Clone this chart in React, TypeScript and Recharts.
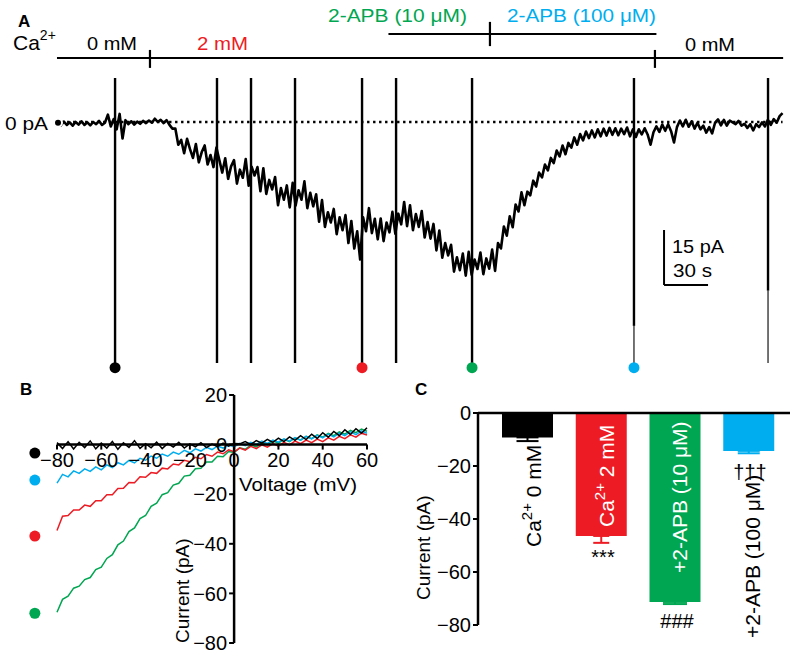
import React from "react";
import {
  LineChart,
  Line,
  XAxis,
  YAxis,
  ReferenceLine,
  ReferenceDot,
  BarChart,
  Bar,
  Cell,
  ErrorBar,
} from "recharts";

const FONT = '"Liberation Sans", Arial, Helvetica, sans-serif';
const INK = "#000000";
const RED = "#ed1c24";
const GREEN = "#00a651";
const BLUE = "#00aeef";

// ---- Panel A: holding current, one sample every 2 s ----
const TRACE_STEP_S = 2;
const TRACE_PA = [
  -0.2, -0.9, 0.1, -0.8, -0.1, -1.0, 0.0, -0.7, 0.2, -0.8,
  -0.1, -0.9, 0.0, -0.6, 0.3, -0.8, -0.2, 2.0, -1.2, 0.8,
  -2.0, 2.2, -4.5, 0.5, -0.6, 0.2, -0.7, 0.1, -0.5, 0.3,
  -0.3, 0.4, -0.2, 0.9, 0.0, 0.6, -0.3, 0.5, -0.8, -1.8,
  -1.8, -6.2, -4.9, -8.5, -4.6, -7.4, -9.8, -6.0, -11.0, -8.2,
  -6.4, -11.6, -9.0, -12.3, -7.0, -10.4, -13.8, -9.9, -15.5, -12.1,
  -10.4, -16.8, -13.0, -15.2, -10.1, -17.4, -12.2, -14.6, -12.3, -18.9,
  -12.6, -19.6, -15.8, -18.4, -15.0, -22.7, -18.0, -21.2, -17.3, -23.3,
  -16.6, -22.8, -18.6, -21.2, -16.2, -23.5, -19.3, -23.0, -19.7, -27.2,
  -21.3, -28.6, -24.6, -27.4, -23.7, -30.6, -26.0, -29.5, -25.4, -33.0,
  -27.0, -34.5, -29.8, -37.5, -26.0, -29.8, -23.5, -30.3, -26.4, -32.0,
  -26.3, -32.5, -27.4, -30.1, -24.5, -30.5, -25.0, -27.9, -21.8, -28.4,
  -22.7, -29.5, -25.1, -28.6, -24.3, -31.5, -27.3, -31.8, -27.8, -35.0,
  -29.6, -37.0, -33.0, -36.4, -33.5, -40.8, -36.9, -40.4, -35.9, -41.9,
  -35.4, -41.7, -37.5, -40.1, -35.6, -41.5, -37.2, -40.0, -34.8, -40.6,
  -33.0, -34.5, -28.5, -31.0, -25.7, -28.7, -22.5, -24.4, -19.2, -22.7,
  -19.0, -20.0, -16.0, -17.6, -13.8, -15.1, -11.6, -13.2, -9.8, -11.2,
  -7.8, -9.4, -6.4, -8.8, -5.7, -7.0, -4.2, -6.2, -3.3, -5.0,
  -2.6, -4.4, -2.3, -4.2, -2.0, -3.9, -1.8, -3.7, -1.6, -3.5,
  -1.7, -3.6, -1.8, -3.3, -1.5, -3.9, -2.0, -4.1, -2.0, -3.4,
  -1.7, -3.4, -6.2, -2.8, -1.2, -2.7, -0.7, -2.4, -0.6, -2.5,
  -5.6, -1.4, 0.4, -1.2, 0.6, -1.3, 0.2, -1.8, -0.2, -2.0,
  -1.0, -2.9, -1.4, -3.1, -0.2, 0.7, -0.9, 0.6, -1.0, 0.4,
  -0.1, -0.6, 0.3, -1.0, -0.5, -1.6, -0.6, -2.3, -0.6, -1.4,
  -0.1, -1.2, 0.6, -0.8, 0.8, -0.2, 1.6, 2.4,
];

// voltage ramps (s) and where the solid part of each ramp artefact ends (pA)
const RAMP_S = [38.9, 108.4, 131.6, 161.6, 207.3, 230.5, 282.3, 392.7, 484.1];
const RAMP_SOLID_TO_PA = [-65.7, -65.7, -65.7, -65.7, -65.7, -65.7, -65.7, -55.6, -46.0];
const RAMP_TOP_PA = 12;
const RAMP_END_PA = -65.7;
const MARKED_RAMPS = [0, 4, 6, 7];
const MARKER_COLORS = [INK, RED, GREEN, BLUE];
const MARKER_PA = -67;

// bath solution timeline (s)
const CA_BAR = { from: -0.7, to: 494.4, level: 17.45, switches: [62.7, 407.0] };
const APB_BAR = { from: 225.3, to: 408.0, level: 24.0, switches: [294.5] };
const SCALE_BAR = { t: 413.2, top: -29.45, bottom: -44.45, seconds: 30 };

// ---- Panel B: I-V relations ----
const IV_MV = [
  -80, -77.5, -75, -72.5, -70, -67.5, -65, -62.5, -60, -57.5, -55, -52.5, -50, -47.5,
  -45, -42.5, -40, -37.5, -35, -32.5, -30, -27.5, -25, -22.5, -20, -17.5, -15, -12.5,
  -10, -7.5, -5, -2.5, 0, 2.5, 5, 7.5, 10, 12.5, 15, 17.5, 20, 22.5, 25, 27.5, 30,
  32.5, 35, 37.5, 40, 42.5, 45, 47.5, 50, 52.5, 55, 57.5, 60,
];
const IV_CA0 = [
  0.8, -1.6, 1.2, -1.8, 0.9, -1.2, 1.5, -1.7, 0.6, -1.4, 1.3, -1.9, 0.7, -1.1, 1.6,
  -1.5, 0.4, -1.3, 1.0, -1.6, 0.5, -1.0, 0.9, -1.4, 0.3, -0.9, 0.8, -1.2, 0.2, -0.8,
  0.6, -0.6, 0.4, 0.3, 1.2, 0.1, 1.6, 0.6, 2.1, 0.9, 2.6, 1.2, 3.1, 1.7, 3.6, 2.0,
  4.2, 2.5, 4.8, 3.0, 5.3, 3.6, 6.0, 4.1, 6.4, 4.6, 6.8,
];
const IV_CA2 = [
  -34.6, -28.9, -28.6, -26.4, -26.4, -24.4, -24.9, -22.6, -22.6, -20.2, -20.2, -17.7,
  -17.6, -15.3, -15.4, -13.0, -13.2, -11.3, -11.6, -9.5, -9.8, -7.8, -8.2, -6.3, -6.9,
  -5.1, -5.7, -4.0, -4.7, -3.0, -3.7, -2.1, -2.9, -1.4, -2.2, -0.7, -1.6, -0.1, -1.0,
  0.4, -0.6, 0.9, -0.1, 1.4, 0.4, 1.8, 0.8, 2.2, 1.2, 2.7, 1.8, 3.3, 2.4, 3.9, 3.0,
  4.6, 3.9,
];
const IV_APB10 = [
  -67.6, -62.4, -61.1, -57.9, -57.1, -54.4, -53.6, -50.4, -49.4, -45.9, -44.4, -40.4,
  -38.9, -35.1, -33.6, -29.8, -28.6, -24.9, -23.6, -20.2, -19.4, -16.3, -15.6, -12.7,
  -12.4, -9.7, -9.5, -7.0, -7.0, -4.7, -4.9, -2.8, -3.2, -1.3, -1.9, -0.2, -0.9, 0.7,
  -0.1, 1.5, 0.6, 2.1, 1.2, 2.7, 1.8, 3.3, 2.4, 3.9, 3.0, 4.5, 3.6, 5.1, 4.2, 5.7,
  4.8, 6.3, 5.4,
];
const IV_APB100 = [
  -15.5, -12.0, -13.0, -10.6, -11.6, -9.8, -10.8, -9.0, -10.2, -8.2, -9.3, -7.3, -8.2,
  -6.4, -7.4, -5.5, -6.3, -4.6, -5.5, -3.8, -4.7, -3.0, -3.9, -2.3, -3.3, -1.7, -2.6,
  -1.1, -2.0, -0.6, -1.4, -0.1, -0.9, 0.5, -0.4, 0.9, 0.1, 1.4, 0.5, 1.8, 1.0, 2.3,
  1.4, 2.8, 1.8, 3.3, 2.3, 3.7, 2.7, 4.2, 3.1, 4.6, 3.6, 5.1, 4.0, 5.5, 4.6,
];
const IV_TICKS_X = [-80, -60, -40, -20, 0, 20, 40, 60];
const IV_TICKS_Y = [20, 0, -20, -40, -60, -80];
// legend dots left of the I-V plot: black, blue, red, green
const IV_DOT_MV = -90;
const IV_DOT_PA = [-3.4, -14.3, -36.9, -68.0];
const IV_DOT_COLORS = [INK, BLUE, RED, GREEN];

// ---- Panel C: mean current at -80 mV ----
const CONDITIONS = ["Ca 0 mM", "Ca 2 mM", "2-APB 10 uM", "2-APB 100 uM"];
const MEAN_PA = [-9.2, -46.4, -71.3, -14.3];
const SEM_PA = [1.4, 2.6, 0.8, 0.9];
const BAR_COLORS = [INK, RED, GREEN, BLUE];
const CAP_HALF = [11, 8, 12, 11];
const BAR_TICKS = [0, -20, -40, -60, -80];

const minus = (v: number) => (v < 0 ? `\u2212${Math.abs(v)}` : String(v));

const traceRows = TRACE_PA.map((pA, i) => ({ t: i * TRACE_STEP_S, pA }));
const ivRows = IV_MV.map((mV, i) => ({
  mV,
  ca0: IV_CA0[i],
  ca2: IV_CA2[i],
  apb10: IV_APB10[i],
  apb100: IV_APB100[i],
}));
const barRows = CONDITIONS.map((name, i) => ({
  name,
  mean: MEAN_PA[i],
  [`err${i}`]: [SEM_PA[i], 0],
}));

const axisLine = { stroke: INK, strokeWidth: 2.5 };
const tickLine = { stroke: INK, strokeWidth: 2 };
const tickFont = { fontSize: 20, fill: INK, fontFamily: FONT };

function Trace() {
  return (
    <div style={{ position: "absolute", left: 0, top: 0 }}>
      <LineChart width={800} height={380} data={traceRows} margin={{ top: 0, right: 0, bottom: 0, left: 0 }}>
        <XAxis type="number" dataKey="t" domain={[-39.55, 505.9]} hide />
        <YAxis type="number" domain={[-70.36, 33.27]} hide />
        <ReferenceLine
          segment={[{ x: -2, y: 0 }, { x: 494, y: 0 }]}
          stroke={INK}
          strokeWidth={2.4}
          strokeDasharray="2.4 3.6"
          ifOverflow="visible"
        />
        <ReferenceLine segment={[{ x: CA_BAR.from, y: CA_BAR.level }, { x: CA_BAR.to, y: CA_BAR.level }]} stroke={INK} strokeWidth={2.2} />
        {CA_BAR.switches.map((s) => (
          <ReferenceLine key={`ca${s}`} segment={[{ x: s, y: CA_BAR.level - 2.7 }, { x: s, y: CA_BAR.level + 2.2 }]} stroke={INK} strokeWidth={2.2} />
        ))}
        <ReferenceLine segment={[{ x: APB_BAR.from, y: APB_BAR.level }, { x: APB_BAR.to, y: APB_BAR.level }]} stroke={INK} strokeWidth={2.2} />
        {APB_BAR.switches.map((s) => (
          <ReferenceLine key={`apb${s}`} segment={[{ x: s, y: APB_BAR.level - 3.3 }, { x: s, y: APB_BAR.level + 3.3 }]} stroke={INK} strokeWidth={2.2} />
        ))}
        {RAMP_S.map((s, i) => (
          <ReferenceLine key={`r${i}`} segment={[{ x: s, y: RAMP_TOP_PA }, { x: s, y: RAMP_SOLID_TO_PA[i] }]} stroke={INK} strokeWidth={2.4} />
        ))}
        {RAMP_S.map((s, i) =>
          RAMP_SOLID_TO_PA[i] > RAMP_END_PA ? (
            <ReferenceLine key={`rt${i}`} segment={[{ x: s, y: RAMP_SOLID_TO_PA[i] }, { x: s, y: RAMP_END_PA }]} stroke={INK} strokeWidth={1.1} />
          ) : null
        )}
        <ReferenceLine segment={[{ x: SCALE_BAR.t, y: SCALE_BAR.top }, { x: SCALE_BAR.t, y: SCALE_BAR.bottom }]} stroke={INK} strokeWidth={2} />
        <ReferenceLine
          segment={[{ x: SCALE_BAR.t, y: SCALE_BAR.bottom }, { x: SCALE_BAR.t + SCALE_BAR.seconds, y: SCALE_BAR.bottom }]}
          stroke={INK}
          strokeWidth={2}
        />
        <Line
          type="linear"
          dataKey="pA"
          stroke={INK}
          strokeWidth={2.6}
          strokeLinejoin="round"
          dot={false}
          isAnimationActive={false}
        />
        {MARKED_RAMPS.map((r, i) => (
          <ReferenceDot key={`m${r}`} x={RAMP_S[r]} y={MARKER_PA} r={5.5} fill={MARKER_COLORS[i]} stroke="none" />
        ))}
      </LineChart>
    </div>
  );
}

function IVPanel() {
  return (
    <>
      <div style={{ position: "absolute", left: 17, top: 385 }}>
        <LineChart width={370} height={268} data={ivRows} margin={{ top: 10, right: 20, bottom: 10, left: 40 }}>
          <XAxis type="number" dataKey="mV" domain={[-80, 60]} ticks={IV_TICKS_X} hide />
          <YAxis type="number" domain={[-80, 20]} ticks={IV_TICKS_Y} hide />
          <Line dataKey="apb10" stroke={GREEN} strokeWidth={1.5} dot={false} isAnimationActive={false} />
          <Line dataKey="ca2" stroke={RED} strokeWidth={1.5} dot={false} isAnimationActive={false} />
          <Line dataKey="apb100" stroke={BLUE} strokeWidth={1.5} dot={false} isAnimationActive={false} />
          <Line dataKey="ca0" stroke={INK} strokeWidth={1.5} dot={false} isAnimationActive={false} />
          {IV_DOT_PA.map((v, i) => (
            <ReferenceDot key={`d${i}`} x={IV_DOT_MV} y={v} r={5.5} fill={IV_DOT_COLORS[i]} stroke="none" ifOverflow="visible" />
          ))}
        </LineChart>
      </div>
      {/* voltage axis, crossing at 0 pA */}
      <div style={{ position: "absolute", left: 17, top: 385 }}>
        <LineChart width={370} height={100} data={ivRows} margin={{ top: 10, right: 20, bottom: 10.4, left: 40 }}>
          <XAxis
            type="number"
            dataKey="mV"
            domain={[-80, 60]}
            ticks={IV_TICKS_X}
            interval={0}
            height={30}
            tickFormatter={minus}
            tick={tickFont}
            tickSize={5}
            tickMargin={3}
            axisLine={axisLine}
            tickLine={tickLine}
          />
          <YAxis type="number" domain={[-80, 20]} hide />
          <Line dataKey="ca0" stroke="none" dot={false} isAnimationActive={false} />
        </LineChart>
      </div>
      {/* current axis, crossing at 0 mV */}
      <div style={{ position: "absolute", left: 134, top: 385 }}>
        <LineChart width={110} height={268} data={ivRows} margin={{ top: 10, right: 0, bottom: 10, left: 10 }}>
          <XAxis type="number" dataKey="mV" domain={[-80, 60]} hide />
          <YAxis
            type="number"
            domain={[-80, 20]}
            ticks={IV_TICKS_Y}
            interval={0}
            width={90.1}
            tickFormatter={minus}
            tick={tickFont}
            tickSize={5}
            axisLine={axisLine}
            tickLine={tickLine}
          />
          <Line dataKey="ca0" stroke="none" dot={false} isAnimationActive={false} />
        </LineChart>
      </div>
    </>
  );
}

function BarPanel() {
  return (
    <div style={{ position: "absolute", left: 388, top: 400 }}>
      <BarChart width={412} height={240} data={barRows} margin={{ top: 12, right: 10, bottom: 15, left: 30 }}>
        <XAxis
          dataKey="name"
          orientation="top"
          height={1}
          tick={false}
          tickLine={false}
          axisLine={axisLine}
          padding={{ left: 13, right: 4 }}
        />
        <YAxis
          type="number"
          domain={[-80, 0]}
          ticks={BAR_TICKS}
          interval={0}
          width={60}
          tickFormatter={minus}
          tick={tickFont}
          tickSize={5}
          axisLine={axisLine}
          tickLine={tickLine}
        />
        <Bar dataKey="mean" barSize={51} isAnimationActive={false}>
          {MEAN_PA.map((_, i) => (
            <Cell key={`c${i}`} fill={BAR_COLORS[i]} />
          ))}
          {SEM_PA.map((_, i) => (
            <ErrorBar
              key={`e${i}`}
              dataKey={`err${i}`}
              direction="y"
              width={CAP_HALF[i]}
              stroke={BAR_COLORS[i]}
              strokeWidth={2}
              isAnimationActive={false}
            />
          ))}
        </Bar>
      </BarChart>
    </div>
  );
}

function Labels() {
  const t = (x: number, y: number, s: string, size: number, len?: number, fill = INK) => (
    <text x={x} y={y} fontSize={size} fill={fill} textLength={len} lengthAdjust={len ? "spacingAndGlyphs" : undefined}>
      {s}
    </text>
  );
  const up = (x: number, y: number, size: number, fill: string, children: React.ReactNode, anchor = "start") => (
    <text transform={`translate(${x},${y}) rotate(-90)`} fontSize={size} fill={fill} textAnchor={anchor}>
      {children}
    </text>
  );
  return (
    <svg
      width={800}
      height={659}
      style={{ position: "absolute", left: 0, top: 0, pointerEvents: "none" }}
      fontFamily={FONT}
    >
      <text x={18} y={27} fontSize={17} fontWeight="bold">A</text>
      <text x={13} y={50} fontSize={21}>
        Ca<tspan dy={-10} fontSize={14}>2+</tspan>
      </text>
      {t(87, 50, "0 mM", 18, 50)}
      {t(197, 50, "2 mM", 18, 51, RED)}
      {t(328, 22, "2-APB (10 \u03bcM)", 18, 139, GREEN)}
      {t(507, 22, "2-APB (100 \u03bcM)", 18, 149, BLUE)}
      {t(685, 51, "0 mM", 18, 50)}
      {t(5, 130, "0 pA", 18, 43)}
      {t(672, 253, "15 pA", 18, 52)}
      {t(673, 277, "30 s", 18, 39)}

      <text x={20} y={395} fontSize={17} fontWeight="bold">B</text>
      {t(239, 491, "Voltage (mV)", 19, 118)}
      {up(188.5, 643, 19, INK, "Current (pA)")}

      <text x={415} y={395} fontSize={17} fontWeight="bold">C</text>
      {up(430, 600, 19, INK, "Current (pA)")}
      {up(541, 547, 21, INK, (
        <>
          Ca<tspan dy={-9} fontSize={15}>2+</tspan>
          <tspan dy={9}>{" 0 mM"}</tspan>
        </>
      ))}
      {up(614, 527, 21, "#ffffff", (
        <>
          Ca<tspan dy={-9} fontSize={15}>2+</tspan>
          <tspan dy={9}>{" 2 mM"}</tspan>
        </>
      ))}
      {up(687, 573, 21, "#ffffff", "+2-APB (10 \u03bcM)")}
      {up(760, 638, 21, INK, "+2-APB (100 \u03bcM)")}
      <text x={603} y={564} fontSize={20} textAnchor="middle">***</text>
      <text x={677} y={628} fontSize={20} textAnchor="middle">###</text>
      <text x={750} y={479} fontSize={20} textAnchor="middle">{"\u2020\u2020\u2020"}</text>
    </svg>
  );
}

export default function App() {
  return (
    <div
      style={{
        position: "absolute",
        left: 0,
        top: 0,
        width: 800,
        height: 659,
        background: "#ffffff",
        fontFamily: FONT,
        overflow: "hidden",
      }}
    >
      <Trace />
      <IVPanel />
      <BarPanel />
      <Labels />
    </div>
  );
}
